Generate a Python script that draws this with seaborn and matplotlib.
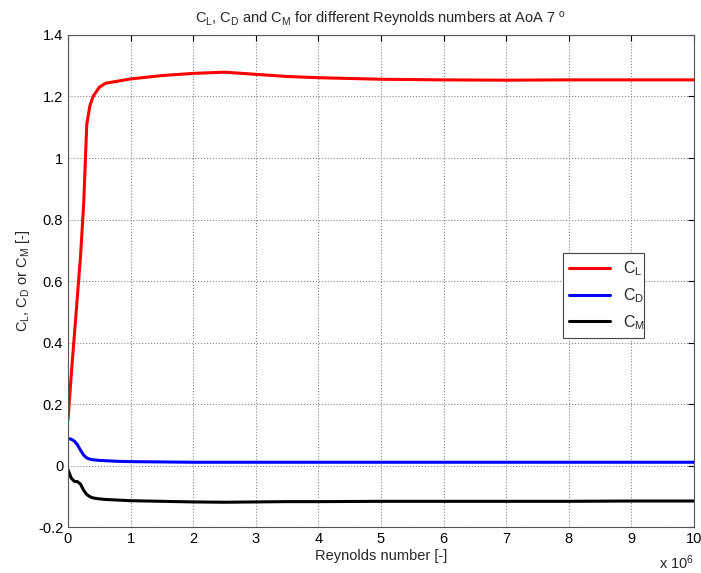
import matplotlib
matplotlib.use("Agg")
import matplotlib.pyplot as plt
import seaborn as sns
import pandas as pd

# Reynolds number in units of 1e6
re_millions = [0.0, 0.05, 0.1, 0.15, 0.2, 0.25, 0.3, 0.35, 0.4, 0.5, 0.6, 0.8, 1.0, 1.5,
               2.0, 2.5, 3.0, 3.5, 4.0, 5.0, 6.0, 7.0, 8.0, 9.0, 10.0]
cl = [0.15, 0.29, 0.42, 0.55, 0.68, 0.85, 1.11, 1.17, 1.20, 1.23, 1.243, 1.25, 1.257, 1.268,
      1.275, 1.279, 1.272, 1.265, 1.261, 1.256, 1.254, 1.253, 1.254, 1.254, 1.254]
cd = [0.088, 0.086, 0.080, 0.068, 0.050, 0.034, 0.025, 0.021, 0.019, 0.017, 0.016, 0.014, 0.013, 0.012,
      0.011, 0.011, 0.011, 0.011, 0.011, 0.011, 0.011, 0.011, 0.011, 0.011, 0.011]
cm = [-0.013, -0.040, -0.051, -0.052, -0.060, -0.080, -0.094, -0.101, -0.105, -0.108, -0.110, -0.112, -0.114, -0.116,
      -0.118, -0.119, -0.118, -0.117, -0.117, -0.116, -0.116, -0.116, -0.116, -0.115, -0.115]

sns.set_style("white")
plt.rcParams["font.family"] = ["Liberation Sans", "DejaVu Sans"]
plt.rcParams["mathtext.fontset"] = "custom"
plt.rcParams["mathtext.rm"] = "Liberation Sans"
plt.rcParams["mathtext.it"] = "Liberation Sans"

df = pd.DataFrame({"re": re_millions, "cl": cl, "cd": cd, "cm": cm})

fig = plt.figure(figsize=(7.01, 5.73), dpi=100)
ax = fig.add_axes([0.097, 0.080, 0.893, 0.859])

sns.lineplot(data=df, x="re", y="cl", color="#ff0000", lw=2.2, ax=ax, label=r"C$_\mathregular{L}$")
sns.lineplot(data=df, x="re", y="cd", color="#0000ff", lw=2.2, ax=ax, label=r"C$_\mathregular{D}$")
sns.lineplot(data=df, x="re", y="cm", color="#000000", lw=2.2, ax=ax, label=r"C$_\mathregular{M}$")

ax.set_xlim(0, 10)
ax.set_ylim(-0.2, 1.4)
ax.set_xticks(range(0, 11))
ax.set_yticks([-0.2, 0, 0.2, 0.4, 0.6, 0.8, 1.0, 1.2, 1.4])
ax.set_yticklabels(["-0.2", "0", "0.2", "0.4", "0.6", "0.8", "1", "1.2", "1.4"])
ax.tick_params(direction="in", length=4, labelsize=10.5, top=True, right=True, colors="black")
ax.grid(True, linestyle=":", color="#888888", linewidth=0.8)
for s in ax.spines.values():
    s.set_color("#555555")
    s.set_linewidth(0.8)

ax.set_xlabel("Reynolds number [-]", fontsize=10.5, labelpad=2)
ax.set_ylabel(r"C$_\mathregular{L}$, C$_\mathregular{D}$ or C$_\mathregular{M}$ [-]", fontsize=10.5, labelpad=4)
ax.set_title(r"C$_\mathregular{L}$, C$_\mathregular{D}$ and C$_\mathregular{M}$ for different Reynolds numbers at AoA 7 $^\mathregular{o}$",
             fontsize=10.5, pad=8)
ax.text(1.0, -0.073, r"x 10$^\mathregular{6}$", transform=ax.transAxes, ha="right", va="center", fontsize=10.5)

leg = ax.legend(loc="lower left", bbox_to_anchor=(0.79, 0.384, 0.13, 0.167), mode="expand",
                fancybox=False, framealpha=1, edgecolor="#444444", fontsize=11.5,
                handlelength=2.6, borderaxespad=0, labelspacing=0.5)
leg.get_frame().set_linewidth(0.8)

fig.savefig("out.png", dpi=100)
